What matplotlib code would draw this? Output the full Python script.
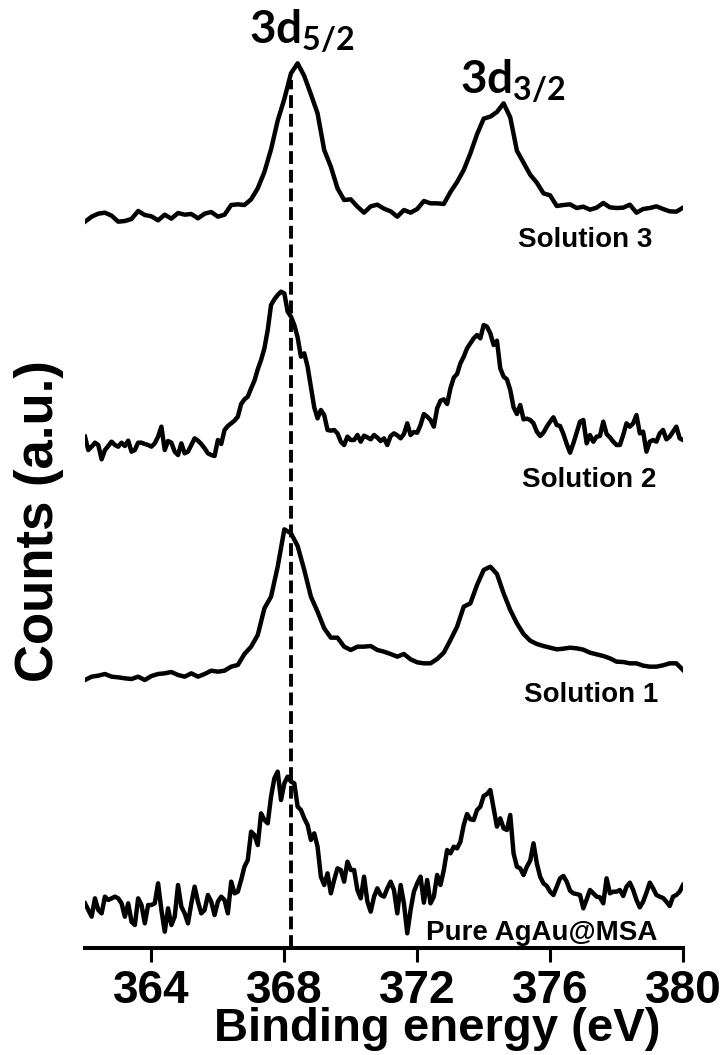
import numpy as np
import matplotlib
matplotlib.use("Agg")
import matplotlib.pyplot as plt

# Ag 3d core-level XPS of the AgAu@MSA clusters, spectra stacked for clarity
plt.rcParams['font.family'] = ['Liberation Sans', 'DejaVu Sans']
plt.rcParams['font.weight'] = 'bold'
plt.rcParams['mathtext.fontset'] = 'custom'
plt.rcParams['mathtext.rm'] = 'Lato:bold'
plt.rcParams['mathtext.it'] = 'Lato:bold'
plt.rcParams['mathtext.bf'] = 'Lato:bold'

# binding energy grids (eV)
energy_fine = np.linspace(362, 380, 181)     # 0.1 eV step
energy_coarse = np.linspace(362, 380, 91)    # 0.2 eV step

# counts (a.u.), each spectrum relative to its own offset
pure_agau = [134, 114, 94, 149, 114, 104, 154, 144, 149, 154,
             149, 134, 94, 134, 79, 69, 149, 129, 74, 129,
             129, 134, 194, 114, 49, 119, 69, 94, 189, 124,
             104, 74, 134, 184, 139, 104, 114, 159, 139, 99,
             139, 154, 144, 104, 199, 164, 169, 204, 244, 264,
             349, 339, 309, 404, 384, 374, 454, 509, 529, 444,
             494, 514, 499, 494, 424, 414, 389, 369, 324, 344,
             304, 214, 189, 224, 164, 204, 239, 234, 199, 259,
             234, 234, 174, 149, 214, 139, 109, 154, 179, 159,
             154, 179, 199, 174, 104, 189, 134, 44, 114, 169,
             194, 214, 136, 204, 134, 154, 219, 189, 234, 294,
             284, 304, 299, 319, 369, 402, 386, 384, 414, 424,
             456, 462, 474, 419, 364, 389, 359, 354, 399, 284,
             244, 239, 219, 244, 262, 314, 254, 214, 194, 186,
             169, 159, 184, 209, 216, 199, 172, 164, 162, 159,
             119, 146, 174, 164, 154, 152, 134, 209, 164, 169,
             169, 174, 156, 184, 196, 174, 144, 122, 139, 166,
             196, 179, 159, 154, 150, 139, 126, 154, 159, 169,
             189]

solution_1 = [54, 64, 67, 72, 64, 62, 59, 57, 64, 54,
              66, 72, 74, 78, 69, 64, 74, 64, 72, 82,
              79, 82, 94, 99, 132, 154, 189, 269, 304, 394,
              506, 494, 456, 384, 304, 259, 209, 181, 181, 154,
              144, 154, 154, 156, 144, 139, 132, 124, 132, 116,
              107, 104, 104, 117, 136, 174, 214, 274, 284, 339,
              384, 394, 372, 314, 264, 224, 192, 172, 162, 156,
              151, 146, 148, 151, 149, 145, 136, 131, 126, 119,
              109, 108, 104, 104, 97, 94, 94, 98, 104, 104,
              84]

solution_2 = [134, 94, 104, 116, 109, 66, 94, 106, 119, 109,
              104, 116, 106, 122, 89, 94, 116, 116, 112, 109,
              104, 114, 134, 164, 94, 121, 116, 89, 79, 114,
              84, 89, 109, 129, 122, 112, 99, 84, 79, 76,
              124, 112, 154, 166, 174, 182, 194, 232, 246, 254,
              279, 302, 336, 364, 399, 454, 529, 546, 559, 569,
              564, 509, 494, 469, 432, 374, 384, 344, 284, 222,
              189, 214, 199, 154, 152, 154, 144, 119, 109, 134,
              124, 124, 139, 119, 137, 132, 126, 139, 131, 121,
              129, 109, 136, 144, 138, 129, 142, 174, 139, 148,
              146, 169, 202, 194, 184, 164, 219, 242, 246, 232,
              279, 311, 322, 354, 374, 399, 414, 429, 439, 429,
              469, 464, 444, 409, 422, 339, 314, 306, 274, 222,
              202, 229, 186, 188, 184, 174, 149, 136, 146, 164,
              179, 192, 169, 166, 142, 112, 86, 114, 146, 179,
              184, 114, 139, 119, 134, 136, 179, 142, 132, 119,
              109, 109, 139, 174, 164, 174, 199, 144, 149, 89,
              119, 124, 119, 144, 154, 126, 134, 149, 164, 129,
              124]

solution_3 = [29, 44, 53, 56, 47, 29, 31, 37, 61, 49,
              45, 33, 50, 38, 55, 50, 52, 39, 53, 58,
              44, 50, 79, 81, 79, 96, 129, 178, 246, 332,
              397, 474, 504, 466, 411, 354, 244, 194, 129, 94,
              96, 74, 56, 75, 80, 68, 60, 44, 64, 56,
              67, 91, 84, 84, 82, 118, 148, 184, 234, 291,
              338, 344, 358, 384, 342, 242, 206, 170, 146, 114,
              108, 76, 79, 81, 70, 74, 65, 71, 85, 72,
              70, 71, 80, 56, 67, 70, 75, 67, 60, 59,
              71]

spectra = [(energy_fine, pure_agau), (energy_coarse, solution_1),
           (energy_fine, solution_2), (energy_coarse, solution_3)]
offsets = [0, 750, 1400, 2150]
names = ['Pure AgAu@MSA', 'Solution 1', 'Solution 2', 'Solution 3']
name_pos = [(372.27, 24), (375.22, 738), (375.16, 1383), (375.04, 2103)]

ag_3d52 = 368.2   # Ag 3d5/2 reference position (eV)

fig = plt.figure(figsize=(7.28, 10.55), dpi=100)
ax = fig.add_axes([85/728, 107/1055, 598/728, 948/1055])

for (e, counts), off in zip(spectra, offsets):
    ax.plot(e, np.array(counts) + off, color='black', lw=3.2,
            solid_joinstyle='round')

ax.vlines(ag_3d52, 0, 2604, colors='black', linestyles=(0, (3.3, 1.5)), lw=2.8)

for name, (x, y) in zip(names, name_pos):
    ax.text(x, y, name, fontsize=20, fontweight='bold', ha='left', va='baseline')

ax.text(366.95, 2712, r'$3d_{5/2}$', fontsize=33, ha='left', va='baseline')
ax.text(373.3, 2562, r'$3d_{3/2}$', fontsize=33, ha='left', va='baseline')

ax.set_xlim(362, 380)
ax.set_ylim(0, 2844)
ax.set_xticks([364, 368, 372, 376, 380])
ax.set_yticks([])
for s in ['left', 'right', 'top']:
    ax.spines[s].set_visible(False)
ax.spines['bottom'].set_linewidth(2.9)
ax.tick_params(axis='x', direction='out', length=10, width=2.2, pad=5,
               labelsize=33)
for lab in ax.get_xticklabels():
    lab.set_fontweight('bold')

ax.set_xlabel('Binding energy (eV)', fontsize=34, fontweight='bold')
ax.xaxis.set_label_coords(0.589, -0.062)
ax.set_ylabel('Counts (a.u.)', fontsize=38, fontweight='bold')
ax.yaxis.set_label_coords(-0.035, 0.45)

fig.savefig('out.png', dpi=100)
